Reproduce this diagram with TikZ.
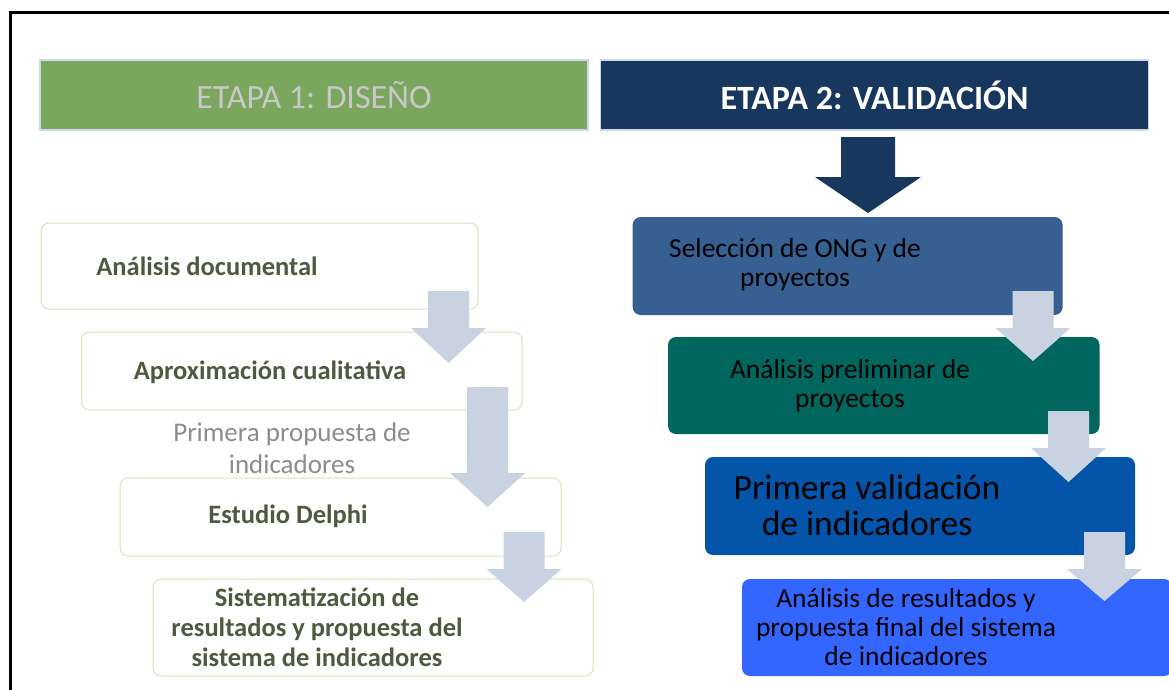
\documentclass[tikz,border=0pt]{standalone}
\usepackage{fontspec}
\setmainfont{Carlito}
\usetikzlibrary{calc}
\definecolor{etapaverde}{RGB}{122,166,93}
\definecolor{etapaazul}{RGB}{23,55,94}
\definecolor{etapaborde}{RGB}{205,216,232}
\definecolor{cajaborde}{RGB}{215,228,189}
\definecolor{textoolivo}{RGB}{78,90,62}
\definecolor{textogris}{RGB}{140,140,140}
\definecolor{flechagris}{RGB}{200,210,224}
\definecolor{selazul}{RGB}{55,96,146}
\definecolor{preverde}{RGB}{0,102,94}
\definecolor{valazul}{RGB}{4,85,169}
\definecolor{finazul}{RGB}{51,102,255}
% block arrow: centre x, top, head base, tip
\newcommand{\blockdown}[4]{%
  \fill[flechagris] (#1-20.5,#2) -- (#1+20.5,#2) -- (#1+20.5,#3) -- (#1+37.5,#3)
    -- (#1,#4) -- (#1-37.5,#3) -- (#1-20.5,#3) -- cycle;}

\tikzset{
  etapa/.style={minimum width=548pt, minimum height=70pt, inner sep=0pt, draw=etapaborde, line width=1.2pt},
  cajablanca/.style={draw=cajaborde, fill=white, rounded corners=8pt, inner sep=0pt, line width=1pt},
  cajacolor/.style={rounded corners=8pt, inner sep=0pt},
  txtizq/.style={text=textoolivo, font=\fontsize{26.5}{30}\selectfont\bfseries, align=center, inner sep=0pt},
  txtder/.style={text=black, font=\fontsize{27.5}{29}\selectfont, align=center, inner sep=0pt}
}

\begin{document}
\begin{tikzpicture}[x=1pt,y=-1pt]
\useasboundingbox (0,0) rectangle (1169,689);
\clip (0,0) rectangle (1169,689);
\draw[line width=3pt] (1175,12.5) -- (10.5,12.5) -- (10.5,695);

% headers
\node (etapa1) at (314,95) [etapa, fill=etapaverde, text={rgb,255:red,200;green,200;blue,200},
  font=\fontsize{34}{40}\selectfont] {ETAPA 1: DISEÑO};
\node (etapa2) at (874.5,95) [etapa, fill=etapaazul, text=white,
  font=\fontsize{34}{40}\selectfont\bfseries] {ETAPA 2: VALIDACIÓN};
\fill[etapaazul] (841,137) -- (895,137) -- (895,177) -- (921,177) -- (868,213)
  -- (815,177) -- (841,177) -- cycle;

% etapa 1
\node (doc) at (259.5,266) [cajablanca, minimum width=437pt, minimum height=86pt] {};
\node (aprox) at (301.75,371) [cajablanca, minimum width=440.5pt, minimum height=78pt] {};
\node (delphi) at (340.5,517) [cajablanca, minimum width=441pt, minimum height=78pt] {};
\node (sist) at (373,627.5) [cajablanca, minimum width=440pt, minimum height=97pt] {};

% etapa 2
\node (selec) at (847.65,266) [cajacolor, fill=selazul, minimum width=430pt, minimum height=98pt] {};
\node (prelim) at (883.75,385.5) [cajacolor, fill=preverde, minimum width=431.5pt, minimum height=97pt] {};
\node (valid) at (920,506) [cajacolor, fill=valazul, minimum width=430pt, minimum height=98pt] {};
\node (final) at (957,627.5) [cajacolor, fill=finazul, minimum width=430pt, minimum height=97pt] {};

\blockdown{448.5}{291}{328}{363}
\blockdown{487.5}{387}{473}{507}
\blockdown{524}{532}{569}{602}
\blockdown{1033}{291}{328}{361}
\blockdown{1068.5}{411}{448}{482}
\blockdown{1104.5}{532}{569}{601}

\node (tdoc) at (207,266) [txtizq] {Análisis documental};
\node (taprox) at (270,372) [txtizq] {Aproximación cualitativa};
\node (tprop) at (292,448) [txtizq, text=textogris, font=\fontsize{27}{32}\selectfont] {Primera propuesta de\\indicadores};
\node (tdelphi) at (288,516) [txtizq] {Estudio Delphi};
\node (tsist) at (317,627) [txtizq] {Sistematización de\\resultados y propuesta del\\sistema de indicadores};

\node (tselec) at (795,265) [txtder] {Selección de ONG y de\\proyectos};
\node (tprelim) at (850,386) [txtder] {Análisis preliminar de\\proyectos};
\node (tvalid) at (867,505) [txtder, font=\fontsize{35.5}{36}\selectfont] {Primera validación\\de indicadores};
\node (tfinal) at (906,627) [txtder] {Análisis de resultados y\\propuesta final del sistema\\de indicadores};
\end{tikzpicture}
\end{document}
